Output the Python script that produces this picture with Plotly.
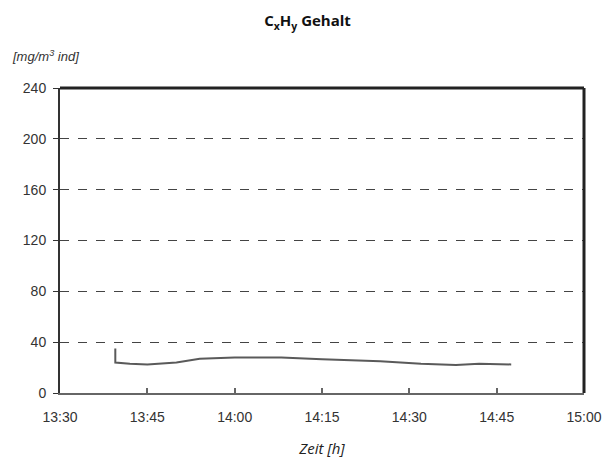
import plotly.graph_objects as go

# Data
times = ["13:39:30", "13:39:30", "13:42:00", "13:45:00", "13:50:00", "13:54:00",
         "14:00:00", "14:08:00", "14:15:00", "14:25:00", "14:32:00", "14:38:00",
         "14:42:00", "14:47:30"]
values = [35, 24, 23, 22.5, 24, 27, 28, 28, 26.5, 25, 23, 22, 23, 22.5]

x_tick_labels = ["13:30", "13:45", "14:00", "14:15", "14:30", "14:45", "15:00"]
y_ticks = [0, 40, 80, 120, 160, 200, 240]

day = "2000-01-01 "
xs = [day + t for t in times]
x_tickvals = [day + t + ":00" for t in x_tick_labels]

fig = go.Figure()
fig.add_trace(go.Scatter(x=xs, y=values, mode="lines",
                         line=dict(color="#5a5a5a", width=2), showlegend=False))

tick_font = dict(family="Liberation Sans, Arial, sans-serif", size=14, color="#333")

fig.update_layout(
    width=615, height=470,
    margin=dict(l=60, r=31, t=88, b=77),
    paper_bgcolor="white", plot_bgcolor="white",
    title=dict(text="<b>C<sub>x</sub>H<sub>y</sub> Gehalt</b>",
               font=dict(family="Open Sans, sans-serif", size=15, color="#111"),
               x=0.5, xanchor="center", y=0.955, yanchor="middle"),
    xaxis=dict(type="date", range=[x_tickvals[0], x_tickvals[-1]],
               tickvals=x_tickvals, ticktext=x_tick_labels,
               showgrid=False, zeroline=False,
               showline=True, linecolor="#666", linewidth=2,
               ticks="inside", ticklen=5, tickcolor="#666", tickwidth=2,
               tickfont=tick_font, ticklabelstandoff=10,
               title=dict(text="<i>Zeit [h]</i>",
                          font=dict(family="Open Sans, sans-serif", size=15, color="#222"),
                          standoff=20)),
    yaxis=dict(range=[0, 240], tickvals=y_ticks,
               showgrid=True, gridcolor="#444", griddash="dash", gridwidth=1.2,
               zeroline=False,
               showline=True, linecolor="#333", linewidth=2,
               ticks="outside", ticklen=5, tickcolor="#333",
               tickfont=tick_font, ticklabelstandoff=4),
)

# Heavier top and right frame lines
fig.add_shape(type="line", xref="paper", yref="paper", x0=0, x1=1, y0=1, y1=1,
              line=dict(color="#222", width=3))
fig.add_shape(type="line", xref="paper", yref="paper", x0=1, x1=1, y0=0, y1=1,
              line=dict(color="#222", width=3))

fig.add_annotation(text="<i>[mg/m<sup>3</sup> ind]</i>", xref="paper", yref="paper",
                   x=-0.095, y=1.105, xanchor="left", yanchor="middle", showarrow=False,
                   font=dict(family="Liberation Sans, Arial, sans-serif", size=13, color="#333"))

fig.write_html("out.html")
